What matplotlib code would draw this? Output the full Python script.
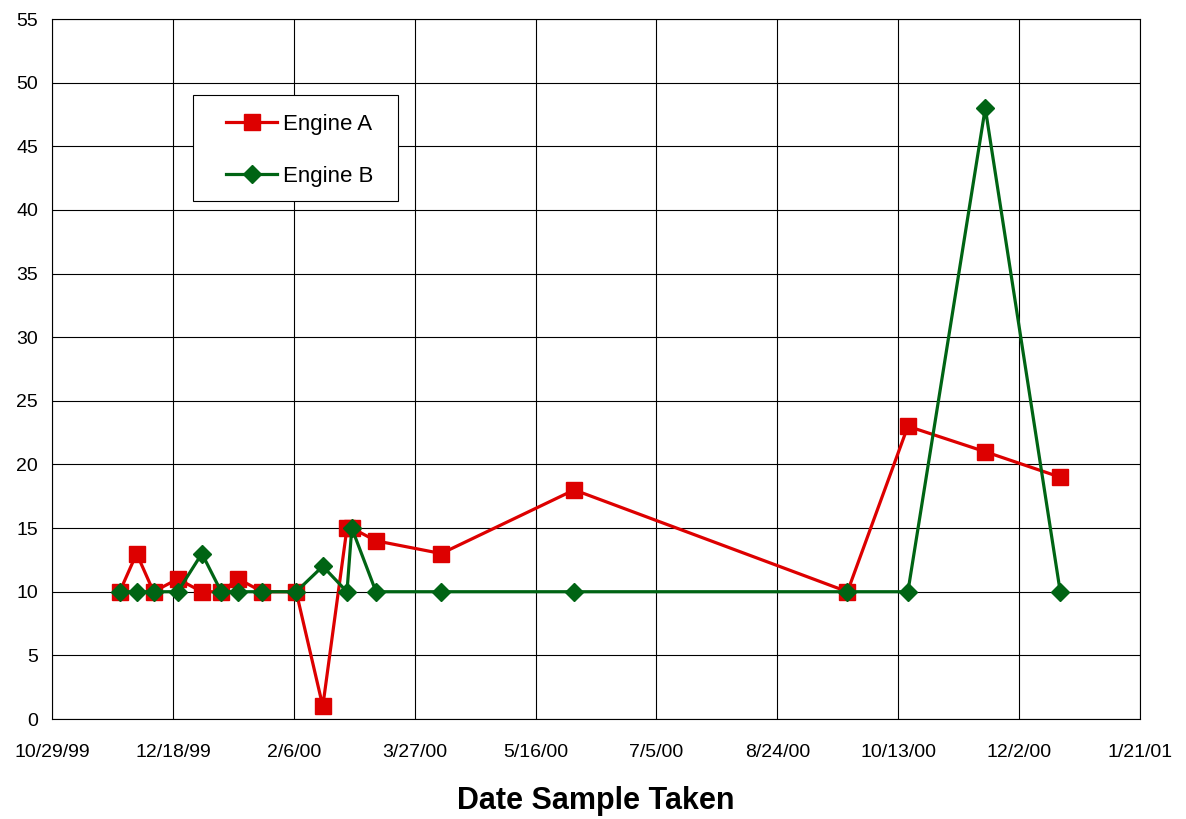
import datetime as dt
import matplotlib
matplotlib.use("Agg")
import matplotlib.pyplot as plt
import matplotlib.dates as mdates
from matplotlib.patches import Rectangle
from matplotlib.ticker import FuncFormatter, MultipleLocator

plt.rcParams["font.family"] = ["Liberation Sans", "DejaVu Sans"]

# sample dates (shared by both engines)
dates = ["1999-11-26", "1999-12-03", "1999-12-10", "1999-12-20", "1999-12-30",
         "2000-01-07", "2000-01-14", "2000-01-24", "2000-02-07", "2000-02-18",
         "2000-02-28", "2000-03-01", "2000-03-11", "2000-04-07", "2000-06-01",
         "2000-09-22", "2000-10-17", "2000-11-18", "2000-12-19"]
engine_a = [10, 13, 10, 11, 10, 10, 11, 10, 10, 1, 15, 15, 14, 13, 18, 10, 23, 21, 19]
engine_b = [10, 10, 10, 10, 13, 10, 10, 10, 10, 12, 10, 15, 10, 10, 10, 10, 10, 48, 10]

x = [dt.datetime.strptime(d, "%Y-%m-%d") for d in dates]

fig = plt.figure(figsize=(11.86, 8.19), dpi=100)
ax = fig.add_axes([52 / 1186, 1 - 719 / 819, 1088 / 1186, 700 / 819])

ax.plot(x, engine_a, color="#dd0000", linewidth=2.3, marker="s", markersize=11,
        label="Engine A", zorder=3)
ax.plot(x, engine_b, color="#006414", linewidth=2.3, marker="D", markersize=9,
        label="Engine B", zorder=4)

start = dt.datetime(1999, 10, 29)
ticks = [start + dt.timedelta(days=50 * i) for i in range(10)]
ax.set_xlim(ticks[0], ticks[-1])
ax.set_xticks(ticks)
ax.xaxis.set_major_formatter(FuncFormatter(
    lambda v, p: "{d.month}/{d.day}/{d:%y}".format(d=mdates.num2date(v))))
ax.set_ylim(0, 55)
ax.yaxis.set_major_locator(MultipleLocator(5))

ax.grid(True, color="black", linewidth=0.8)
ax.set_axisbelow(True)
ax.tick_params(axis="x", length=0, labelsize=14, pad=18)
ax.tick_params(axis="y", length=0, labelsize=14, pad=10)
for s in ax.spines.values():
    s.set_color("black")
    s.set_linewidth(0.8)

ax.set_xlabel("Date Sample Taken", fontsize=22, fontweight="bold", labelpad=18)

# legend box drawn separately so the padding matches the original
ax.add_patch(Rectangle((0.1296, 0.74), 0.1884, 0.1514, transform=ax.transAxes,
                       facecolor="white", edgecolor="black", linewidth=0.8,
                       zorder=5))
leg = ax.legend(loc="upper left", bbox_to_anchor=(0.1599, 0.8643), fontsize=16,
                frameon=False, borderpad=0, labelspacing=1.4, handlelength=2.3,
                handletextpad=0.25, borderaxespad=0)
leg.set_zorder(6)

fig.savefig("out.png", dpi=100)
